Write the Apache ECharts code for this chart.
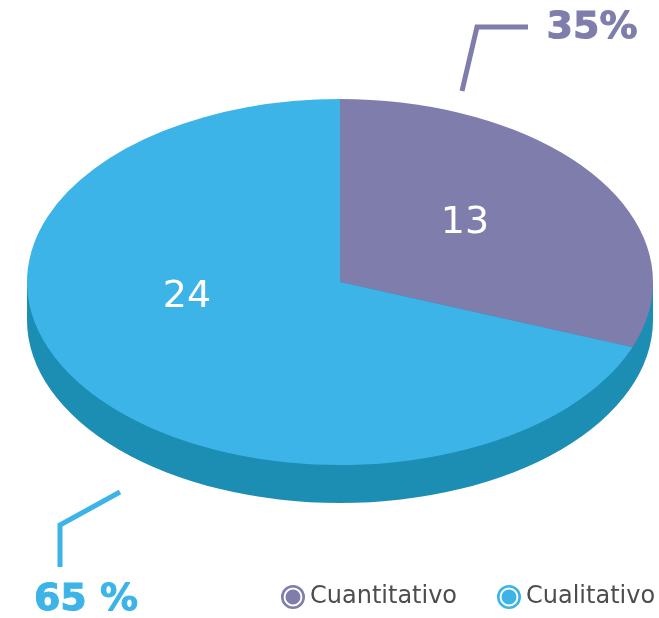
<!DOCTYPE html>
<html>
<head>
<meta charset="utf-8">
<style>
  html, body { margin: 0; padding: 0; background: #fff; }
  #chart { width: 659px; height: 618px; }
</style>
<script src="https://cdn.jsdelivr.net/npm/echarts@6/dist/echarts.min.js"></script>
</head>
<body>
<div id="chart"></div>
<script>
const categories = ["Cuantitativo", "Cualitativo"];
// share of the disc each slice takes as drawn in the picture (percent)
const sliceShares = [30.8, 69.2];
const sliceCounts = ["13", "24"];
const percentLabels = ["35%", "65 %"];
const colors = ["#7f7dab", "#3cb4e7"];
const wallColor = "#1c8db3";

const CX = 340, CY = 282, RX = 313, RY = 183, DEPTH = 38;
const FONT = "DejaVu Sans";
const LEGEND_ICON = "path://M12 0A12 12 0 1 1 12 24A12 12 0 1 1 12 0ZM12 2.6A9.4 9.4 0 1 0 12 21.4A9.4 9.4 0 1 0 12 2.6ZM12 4.5A7.5 7.5 0 1 1 12 19.5A7.5 7.5 0 1 1 12 4.5Z";

function disc(color, startAngle, endAngle, y) {
    return {
        type: "sector",
        x: CX,
        y: y,
        scaleY: RY / RX,
        shape: { cx: 0, cy: 0, r0: 0, r: RX, startAngle, endAngle, clockwise: true },
        style: { fill: color },
    };
}

function renderWall() {
    return {
        type: "group",
        children: [
            { type: "rect", shape: { x: CX - RX, y: CY, width: 2 * RX, height: DEPTH }, style: { fill: wallColor } },
            disc(wallColor, 0, Math.PI * 2, CY + DEPTH),
        ],
    };
}

function sliceSeries(name, i) {
    const before = sliceShares.slice(0, i).reduce((a, b) => a + b, 0);
    return {
        type: "custom",
        name,
        coordinateSystem: "none",
        itemStyle: { color: colors[i] },
        data: [[sliceShares[i]]],
        renderItem: (params, api) => {
            const start = -Math.PI / 2 + (before / 100) * Math.PI * 2;
            const end = start + (api.value(0) / 100) * Math.PI * 2;
            return disc(colors[i], start, end, CY);
        },
    };
}

function leader(points, color) {
    return {
        type: "polyline",
        z: 10,
        shape: { points },
        style: { stroke: color, lineWidth: 5, fill: null, lineJoin: "miter" },
    };
}

function label(text, x, y, color, size, weight) {
    return {
        type: "text",
        z: 10,
        x,
        y,
        style: {
            text,
            fill: color,
            stroke: weight === "bold" ? color : null,
            lineWidth: weight === "bold" ? 1 : 0,
            fontFamily: FONT,
            fontSize: size,
            fontWeight: weight,
            textAlign: "center",
            textVerticalAlign: "middle",
        },
    };
}

function legendFor(name, left) {
    return {
        data: [name],
        left,
        top: 580,
        itemWidth: 24,
        itemHeight: 24,
        icon: LEGEND_ICON,
        textStyle: { fontFamily: FONT, fontSize: 24, color: "#4d4d4d", padding: [0, 0, 0, 0] },
    };
}

const chart = echarts.init(document.getElementById("chart"));
chart.setOption({
    animation: false,
    legend: [legendFor(categories[0], 276), legendFor(categories[1], 492)],
    series: [
        { type: "custom", name: "wall", coordinateSystem: "none", data: [[1]], renderItem: renderWall, silent: true },
        ...categories.map(sliceSeries),
    ],
    graphic: [
        leader([[462, 91], [477, 27], [528, 27]], colors[0]),
        leader([[120, 492], [60, 525], [60, 567]], colors[1]),
        label(sliceCounts[0], 465, 223, "#fff", 38, "normal"),
        label(sliceCounts[1], 187, 297, "#fff", 38, "normal"),
        label(percentLabels[0], 592, 28, colors[0], 38, "bold"),
        label(percentLabels[1], 86, 600, colors[1], 38, "bold"),
    ],
});
</script>
</body>
</html>
